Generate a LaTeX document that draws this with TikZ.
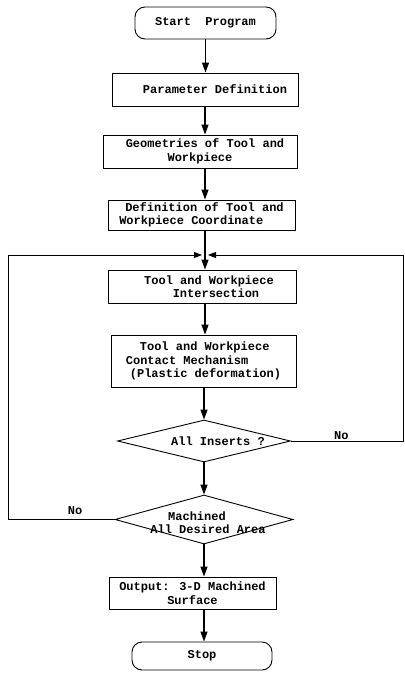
\documentclass[tikz,border=0pt]{standalone}
\usepackage{fontspec}
\newfontfamily\plotfont{Liberation Mono}
\usepackage{tikz}
\usetikzlibrary{arrows.meta, positioning, shapes.geometric}

\tikzset{
    proc/.style={draw, line width=0.9pt, inner sep=0pt, font=\plotfont\bfseries\fontsize{12}{13.5}\selectfont, align=center},
    term/.style={proc, rounded corners=10pt},
    decision/.style={draw, diamond, line width=0.9pt, inner sep=0pt},
    flow/.style={line width=1.3pt, -{Triangle[length=10pt, width=7pt]}},
    loopline/.style={line width=1pt, -{Triangle[length=8pt, width=6pt]}},
    lbl/.style={font=\plotfont\bfseries\fontsize{12}{13.5}\selectfont, inner sep=0.5pt}
}

\begin{document}
\begin{tikzpicture}[x=1pt, y=-1pt]
    \useasboundingbox (0,0) rectangle (404,676);

    % main column
    \node[term, minimum width=141, minimum height=32] (start) at (205.5,23) {Start\ \ Program};
    \node[proc, minimum width=186, minimum height=33] (param) at (205,89.5) {\hspace*{20pt}Parameter Definition};
    \node[proc, minimum width=194, minimum height=33] (geom) at (200,151.5) {\hspace*{10pt}Geometries of Tool and\\Workpiece};
    \node[proc, minimum width=187, minimum height=30, align=left] (defn) at (201.5,215) {\hspace*{6pt}Definition of Tool and\\Workpiece Coordinate};
    \node[proc, minimum width=188, minimum height=33] (inter) at (202,286.5) {\hspace*{14pt}Tool and Workpiece\\\hspace*{28pt}Intersection};
    \node[proc, minimum width=185, minimum height=52, align=left] (contact) at (203.5,361) {\hspace*{14pt}Tool and Workpiece\\Contact Mechanism\\\hspace*{4pt}(Plastic deformation)};

    % decisions
    \node[decision, minimum width=173, minimum height=42] (ins) at (204,441) {};
    \node[lbl, align=center] (ins-txt) at ([xshift=14]ins.center) {All Inserts ?};
    \node[decision, minimum width=178, minimum height=49] (mach) at (204,519.5) {};
    \node[lbl, align=center] (mach-txt) at ([xshift=4, yshift=-3]mach.center) {\hspace*{-22pt}Machined\\All Desired Area};

    \node[proc, minimum width=167, minimum height=32] (out) at (192.5,593) {Output: 3-D Machined\\Surface};
    \node[term, minimum width=140, minimum height=28] (stop) at (202,656) {Stop};

    % loop corners
    \coordinate (join) at (205,255);
    \coordinate (lft) at (8,255);
    \coordinate (rgt) at (403,255);

    % arrows
    \draw[flow] (start.south) -- (start.south |- param.north);
    \draw[flow] (join |- param.south) -- (join |- geom.north);
    \draw[flow] (join |- geom.south) -- (join |- defn.north);
    \draw[line width=1.3pt] (join |- defn.south) -- (join);
    \draw[flow] (join) -- (join |- inter.north);
    \draw[flow] (join |- inter.south) -- (join |- contact.north);
    \draw[flow] (contact.south -| ins.north) -- (ins.north);
    \draw[flow] (ins.south) -- (mach.north);
    \draw[flow] (mach.south) -- (mach.south |- out.north);
    \draw[flow] (mach.south |- out.south) -- (mach.south |- stop.north);

    % feedback loops
    \draw[loopline] (ins.east) -- node[lbl, pos=0.45, above] (no-ins) {No} (ins.east -| rgt) -- (rgt) -- ([xshift=3]join);
    \draw[loopline] (mach.west) -- node[lbl, pos=0.37, above=4pt] (no-mach) {No} (mach.west -| lft) -- (lft) -- ([xshift=-3]join);
\end{tikzpicture}
\end{document}
